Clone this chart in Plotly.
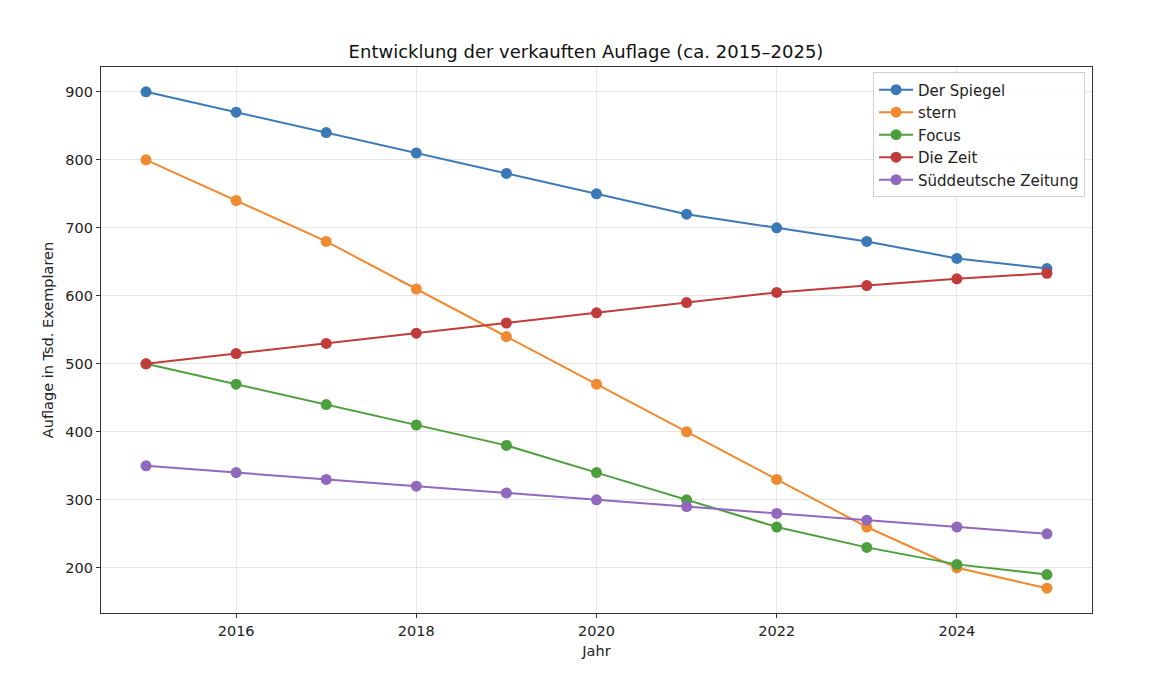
import plotly.graph_objects as go

# Verkaufte Auflage in Tsd. Exemplaren, 2015-2025
jahre = list(range(2015, 2026))
spiegel = [900, 870, 840, 810, 780, 750, 720, 700, 680, 655, 640]
stern = [800, 740, 680, 610, 540, 470, 400, 330, 260, 200, 170]
focus = [500, 470, 440, 410, 380, 340, 300, 260, 230, 205, 190]
zeit = [500, 515, 530, 545, 560, 575, 590, 605, 615, 625, 633]
sz = [350, 340, 330, 320, 310, 300, 290, 280, 270, 260, 250]

namen = ['Der Spiegel', 'stern', 'Focus', 'Die Zeit', 'Süddeutsche Zeitung']
reihen = [spiegel, stern, focus, zeit, sz]
farben = ['#3b78b6', '#f08a30', '#4d9f3d', '#c23b3b', '#9068bd']

fig = go.Figure()
for name, werte, farbe in zip(namen, reihen, farben):
    fig.add_trace(go.Scatter(x=jahre, y=werte, name=name, mode='lines+markers',
                             line=dict(color=farbe, width=2),
                             marker=dict(color=farbe, size=11)))

achse = dict(showline=True, linecolor='#333333', linewidth=1.2, mirror=True,
             ticks='outside', ticklen=4, tickcolor='#333333',
             showgrid=True, gridcolor='#e6e6e6', gridwidth=1, zeroline=False,
             tickfont=dict(size=14.5, color='#222222'))

fig.update_layout(
    width=1156, height=696,
    title=dict(text='Entwicklung der verkauften Auflage (ca. 2015–2025)', x=0.5, xanchor='center',
               y=0.937, yanchor='middle', font=dict(size=18, color='#111111')),
    font=dict(family='DejaVu Sans', size=14.5, color='#222222'),
    plot_bgcolor='white', paper_bgcolor='white',
    margin=dict(l=93, r=72, t=59, b=91),
    xaxis=dict(achse, title=dict(text='Jahr', font=dict(size=14.5), standoff=8),
               range=[2014.5, 2025.5], tickvals=[2016, 2018, 2020, 2022, 2024]),
    yaxis=dict(achse, title=dict(text='Auflage in Tsd. Exemplaren', font=dict(size=14.5), standoff=8),
               range=[133.5, 936.5], tickvals=[200, 300, 400, 500, 600, 700, 800, 900]),
    legend=dict(x=0.993, y=0.99, xanchor='right', yanchor='top',
                bgcolor='rgba(255,255,255,0.85)', bordercolor='#d0d0d0', borderwidth=1,
                font=dict(size=15), tracegroupgap=0, itemwidth=34),
)

fig.write_html("out.html")
